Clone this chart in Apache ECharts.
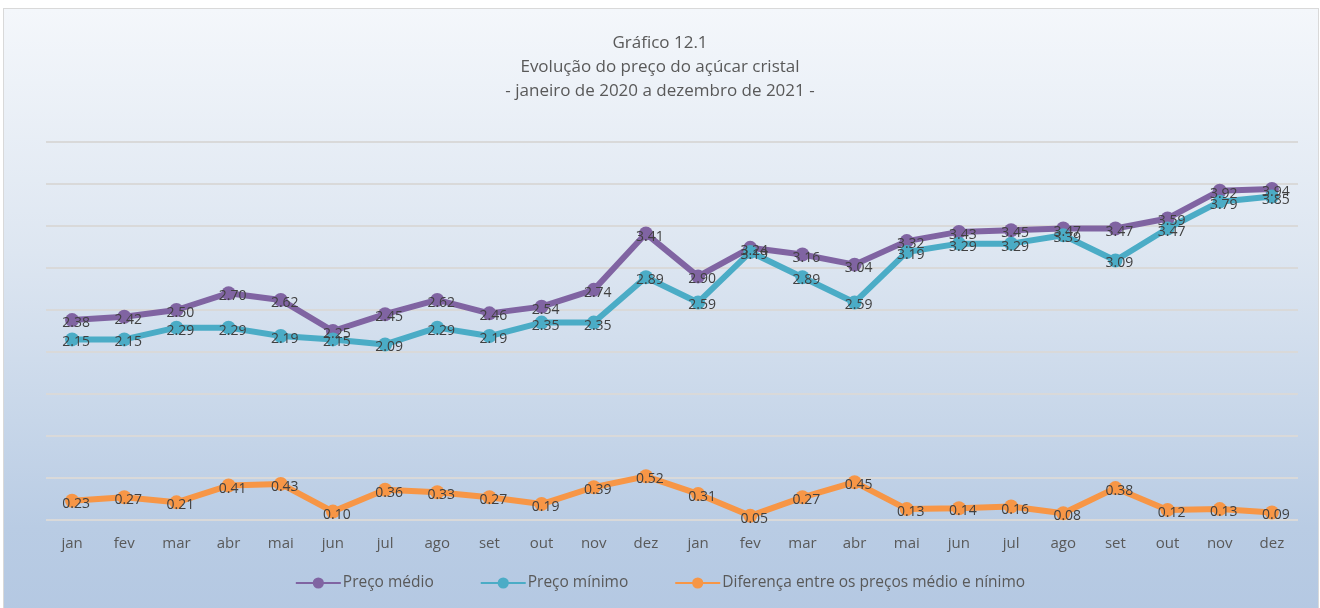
<!DOCTYPE html>
<html>
<head>
<meta charset="utf-8">
<script src="https://cdn.jsdelivr.net/npm/echarts@6/dist/echarts.min.js"></script>
<style>
html,body{margin:0;padding:0;background:#ffffff;width:1320px;height:608px;overflow:hidden;}
#frame{position:absolute;left:3px;top:8px;width:1314px;height:610px;border:1px solid #d9d9d9;
background:linear-gradient(to bottom,#f4f7fb 0%,#dde6f1 40%,#b9cce4 85%,#b4c8e2 100%);}
#chart{position:absolute;left:0;top:0;width:1320px;height:608px;}
</style>
</head>
<body>
<div id="frame"></div>
<div id="chart"></div>
<script>
const months = ['jan','fev','mar','abr','mai','jun','jul','ago','set','out','nov','dez',
                'jan','fev','mar','abr','mai','jun','jul','ago','set','out','nov','dez'];
const precoMedio = [2.38,2.42,2.50,2.70,2.62,2.25,2.45,2.62,2.46,2.54,2.74,3.41,
                    2.90,3.24,3.16,3.04,3.32,3.43,3.45,3.47,3.47,3.59,3.92,3.94];
const precoMinimo = [2.15,2.15,2.29,2.29,2.19,2.15,2.09,2.29,2.19,2.35,2.35,2.89,
                     2.59,3.19,2.89,2.59,3.19,3.29,3.29,3.39,3.09,3.47,3.79,3.85];
const diferenca = [0.23,0.27,0.21,0.41,0.43,0.10,0.36,0.33,0.27,0.19,0.39,0.52,
                   0.31,0.05,0.27,0.45,0.13,0.14,0.16,0.08,0.38,0.12,0.13,0.09];
const seriesNames = ['Preço médio','Preço mínimo','Diferença entre os preços médio e nínimo'];
const titleLines = ['Gráfico 12.1','Evolução do preço do açúcar cristal','- janeiro de 2020 a dezembro de 2021 -'];

const FONT = '"Open Sans", "Noto Sans", sans-serif';
const chart = echarts.init(document.getElementById('chart'), null, {renderer:'canvas'});
function mk(name, data, color){
  return {
    name: name, type:'line', data: data,
    symbol:'circle', symbolSize: 14,
    lineStyle:{width:6, color:color},
    itemStyle:{color:color},
    label:{show:true, position:'inside', offset:[4,3], color:'#404040', fontSize:14, fontFamily:FONT,
           formatter: p => p.value.toFixed(2)},
    emphasis:{disabled:true}
  };
}
chart.setOption({
  animation:false,
  backgroundColor:'transparent',
  title:{
    text: titleLines.join('\n'),
    left:'center', top:26,
    textStyle:{fontFamily:FONT, fontSize:17, fontWeight:'normal', color:'#595959', lineHeight:24}
  },
  legend:{
    data: seriesNames,
    left:'center', top:570,
    itemWidth:45, itemHeight:14, itemGap:46,
    textStyle:{fontFamily:FONT, fontSize:15.5, color:'#595959', padding:[0,0,0,-3]}
  },
  grid:{left:46, right:22, top:142, bottom:88},
  xAxis:{
    type:'category', data: months, boundaryGap:true,
    axisLine:{show:false}, axisTick:{show:false},
    axisLabel:{fontFamily:FONT, fontSize:15, color:'#595959', margin:16}
  },
  yAxis:{
    type:'value', min:0, max:4.5, interval:0.5,
    axisLabel:{show:false}, axisLine:{show:false}, axisTick:{show:false},
    splitLine:{show:true, lineStyle:{color:'#d9d9d9', width:2}}
  },
  series:[
    mk(seriesNames[0], precoMedio, '#8064a2'),
    mk(seriesNames[1], precoMinimo, '#4bacc6'),
    mk(seriesNames[2], diferenca, '#f79646')
  ]
});
</script>
</body>
</html>
